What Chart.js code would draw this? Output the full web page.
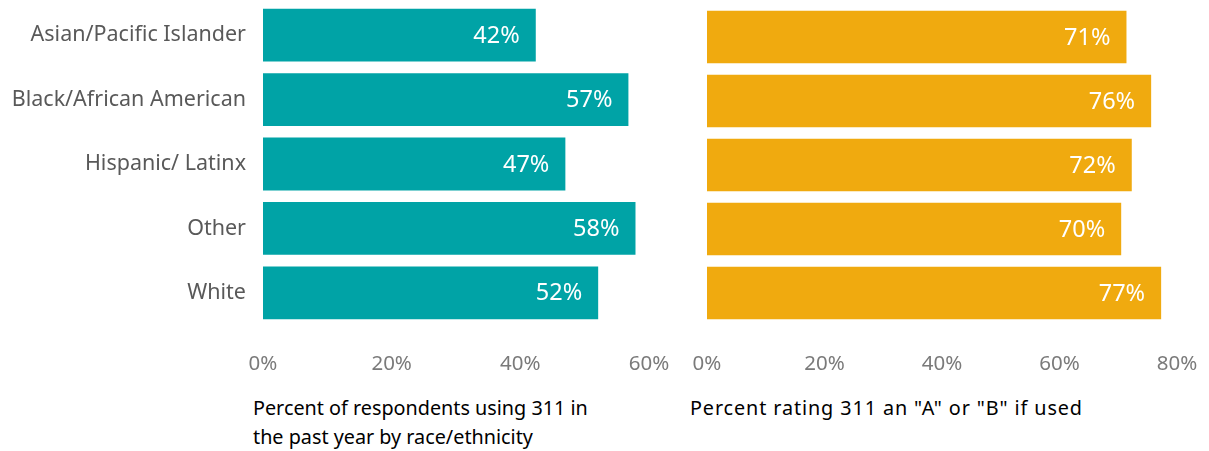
<!DOCTYPE html>
<html>
<head>
<meta charset="utf-8">
<script src="https://cdn.jsdelivr.net/npm/chart.js@4"></script>
<style>
body{margin:0;background:#fff;width:1209px;height:451px;overflow:hidden;position:relative;font-family:"Noto Sans",sans-serif;}
#wrapL{position:absolute;left:0;top:0;width:680px;height:385px;}
#wrapR{position:absolute;left:680px;top:0;width:529px;height:385px;}
.title{position:absolute;color:#000;font-size:19.8px;line-height:29px;white-space:nowrap;}
</style>
</head>
<body>
<div id="wrapL"><canvas id="chartL"></canvas></div>
<div id="wrapR"><canvas id="chartR"></canvas></div>
<div class="title" style="left:253px;top:393px;">Percent of respondents using 311 in<br>the past year by race/ethnicity</div>
<div class="title" style="left:690px;top:393px;letter-spacing:0.9px;">Percent rating 311 an "A" or "B" if used</div>
<script>
const categories=["Asian/Pacific Islander","Black/African American","Hispanic/ Latinx","Other","White"];
const usedValues=[42.4,56.8,47.0,57.9,52.1];
const usedLabels=["42%","57%","47%","58%","52%"];
const ratingValues=[71.4,75.6,72.3,70.5,77.3];
const ratingLabels=["71%","76%","72%","70%","77%"];
const leftTicks=[0,20,40,60];
const rightTicks=[0,20,40,60,80];

const FONT='"Noto Sans", sans-serif';

// white value labels drawn inside the end of each bar
const valueLabels={
id:'valueLabels',
afterDatasetsDraw(chart,args,opts){
const ctx=chart.ctx;
const meta=chart.getDatasetMeta(0);
ctx.save();
ctx.fillStyle='#fff';
ctx.font='23.5px '+FONT;
ctx.textAlign='right';
ctx.textBaseline='middle';
meta.data.forEach((bar,i)=>{
ctx.fillText(opts.labels[i],bar.x-16,bar.y+1);
});
ctx.restore();
}
};

function makeChart(id,values,labels,color,max,tickVals,showCats,pad){
return new Chart(document.getElementById(id),{
type:'bar',
data:{
labels:categories,
datasets:[{
data:values,
backgroundColor:color,
barPercentage:0.82,
categoryPercentage:1
}]
},
options:{
indexAxis:'y',
responsive:true,
maintainAspectRatio:false,
animation:false,
layout:{padding:pad},
plugins:{
legend:{display:false},
tooltip:{enabled:false},
valueLabels:{labels:labels}
},
scales:{
x:{
min:0,max:max,
grid:{display:false,drawTicks:false},
border:{display:false},
afterBuildTicks(scale){scale.ticks=tickVals.map(v=>({value:v}));},
afterFit(scale){scale.height=60;scale.paddingLeft=0;scale.paddingRight=0;},
ticks:{
color:'#7a7a7a',
font:{family:FONT,size:20.5},
padding:27,
maxRotation:0,
callback:v=>v+'%'
}
},
y:{
display:showCats,
grid:{display:false,drawTicks:false},
border:{display:false},
afterFit(scale){
scale.width=showCats?263:0;
scale.paddingTop=0;scale.paddingBottom=0;
},
ticks:{
color:'#595959',
font:{family:FONT,size:21.5},
padding:17
}
}
}
},
plugins:[valueLabels]
});
}

makeChart('chartL',usedValues,usedLabels,'#00A3A6',60,leftTicks,true,{top:3,right:31,left:0,bottom:0});
makeChart('chartR',ratingValues,ratingLabels,'#F0AA0F',80,rightTicks,false,{top:5,right:32,left:27,bottom:0});
</script>
</body>
</html>
